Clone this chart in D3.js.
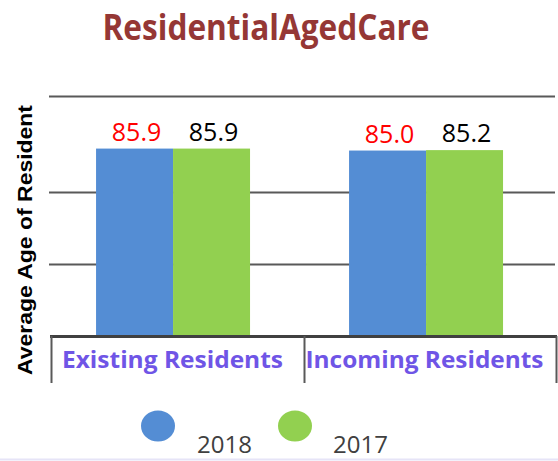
<!DOCTYPE html>
<html><head><meta charset="utf-8">
<script src="https://cdn.jsdelivr.net/npm/d3@7"></script>
<style>body{margin:0;background:#fff;}svg{display:block;}</style>
</head><body>
<svg id="chart" width="558" height="461"></svg>
<script>
const categories = ["Existing Residents", "Incoming Residents"];
const seriesNames = ["2018", "2017"];
const values2018 = [85.9, 85.0];
const values2017 = [85.9, 85.2];
const gridValues = [33, 66, 110];
const colors = ["#548DD4", "#92D050"];
const labelColors = ["#FF0000", "#000000"];

(function(){
const svg = d3.select("#chart");
const W = 558, H = 461;
const pLeft = 51, pRight = 557, pTop = 96, pBottom = 336;

const x0 = d3.scaleBand().domain(categories).range([pLeft, pRight]).paddingInner(0).paddingOuter(0);
const x1 = d3.scaleBand().domain(seriesNames).range([0, x0.bandwidth()]).paddingInner(0).paddingOuter(0.643).align(0.455);
const y = d3.scaleLinear().domain([0, 110]).range([pBottom, pTop]);

// bottom lavender line
svg.append("line").attr("x1",0).attr("x2",W).attr("y1",459.5).attr("y2",459.5)
  .attr("stroke","#e6e4f7").attr("stroke-width",2);

// title
svg.append("text").attr("x",266).attr("y",40).attr("text-anchor","middle")
  .attr("font-family","Open Sans").attr("font-weight","bold").attr("font-size",35)
  .attr("fill","#953735").attr("textLength",327).attr("lengthAdjust","spacingAndGlyphs")
  .text("ResidentialAgedCare");

// gridlines
svg.append("g").selectAll("line").data(gridValues).join("line")
  .attr("x1",pLeft-2).attr("x2",555).attr("y1",d=>Math.round(y(d))+0.5).attr("y2",d=>Math.round(y(d))+0.5)
  .attr("stroke","#595959").attr("stroke-width",2);

// bars
const data = categories.map((c,i)=>({cat:c, vals:[{s:"2018",v:values2018[i]},{s:"2017",v:values2017[i]}]}));
const g = svg.append("g").selectAll("g").data(data).join("g")
  .attr("transform",d=>`translate(${x0(d.cat)},0)`);
g.selectAll("rect").data(d=>d.vals).join("rect")
  .attr("x",d=>x1(d.s)).attr("width",x1.bandwidth())
  .attr("y",d=>y(d.v)).attr("height",d=>pBottom-y(d.v))
  .attr("fill",(d,i)=>colors[i]);
g.selectAll("text").data(d=>d.vals).join("text")
  .attr("x",d=>x1(d.s)+x1.bandwidth()/2+2).attr("y",d=>y(d.v)-8)
  .attr("text-anchor","middle").attr("font-family","Open Sans").attr("font-size",25)
  .attr("fill",(d,i)=>labelColors[i]).text(d=>d.v.toFixed(1));

// x axis baseline and ticks
const xAxis = d3.axisBottom(x0).tickSize(0).tickFormat("");
const axG = svg.append("g").attr("transform",`translate(0,${pBottom})`).call(xAxis);
axG.select(".domain").remove();
svg.append("line").attr("x1",pLeft-1).attr("x2",pRight).attr("y1",pBottom+0.5).attr("y2",pBottom+0.5)
  .attr("stroke","#404040").attr("stroke-width",3);
const bounds = [pLeft, x0(categories[1]), pRight-1];
svg.append("g").selectAll("line").data(bounds).join("line")
  .attr("x1",d=>d+0.5).attr("x2",d=>d+0.5).attr("y1",pBottom).attr("y2",383)
  .attr("stroke","#595959").attr("stroke-width",2);

// category labels
svg.append("g").selectAll("text").data(categories).join("text")
  .attr("x",d=>x0(d)+x0.bandwidth()/2+(d===categories[0]?-5:-6)).attr("y",368)
  .attr("text-anchor","middle").attr("font-family","Open Sans").attr("font-weight","bold")
  .attr("font-size",24).attr("fill","#6F55E6")
  .attr("textLength",(d,i)=>i===0?221:238).attr("lengthAdjust","spacingAndGlyphs")
  .text(d=>d);

// y axis label
svg.append("text").attr("transform","translate(32,240) rotate(-90)")
  .attr("text-anchor","middle").attr("font-family","Liberation Sans").attr("font-weight","bold")
  .attr("font-size",20).attr("fill","#000").attr("textLength",270).attr("lengthAdjust","spacingAndGlyphs")
  .text("Average Age of Resident");

// legend
const legendPos = [{cx:158, tx:197},{cx:295, tx:333}];
const lg = svg.append("g").selectAll("g").data(seriesNames).join("g");
lg.append("ellipse").attr("cx",(d,i)=>legendPos[i].cx).attr("cy",426).attr("rx",17).attr("ry",15.5)
  .attr("fill",(d,i)=>colors[i]);
lg.append("text").attr("x",(d,i)=>legendPos[i].tx).attr("y",453)
  .attr("font-family","Open Sans").attr("font-size",24).attr("fill","#404040")
  .text(d=>d);
})();
</script>
</body></html>
